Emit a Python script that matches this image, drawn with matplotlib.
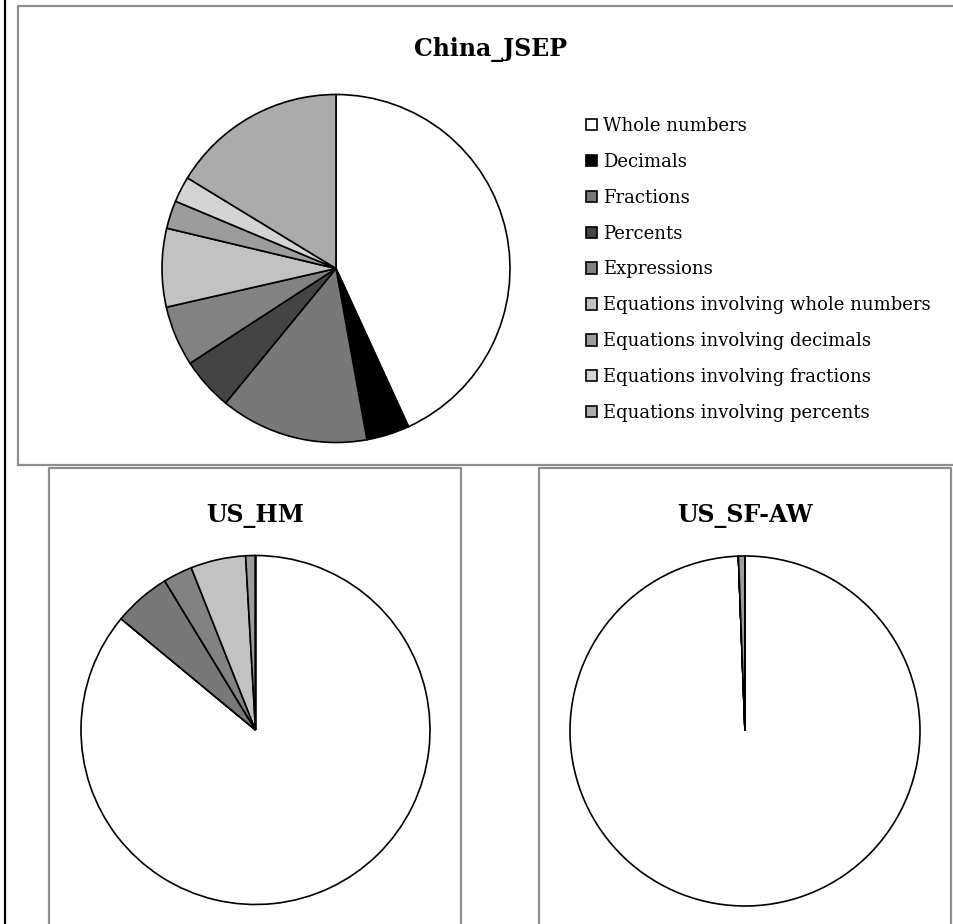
import matplotlib.pyplot as plt
from matplotlib.lines import Line2D

plt.rcParams['font.family'] = ['DejaVu Serif']

# Data
categories = ['Whole numbers', 'Decimals', 'Fractions', 'Percents', 'Expressions',
              'Equations involving whole numbers', 'Equations involving decimals',
              'Equations involving fractions', 'Equations involving percents']
china_jsep = [43.2, 4.0, 13.8, 4.9, 5.6, 7.3, 2.6, 2.4, 16.3]
us_hm = [86.0, 0, 5.3, 0, 2.7, 5.1, 0.9, 0, 0]
us_sfaw = [99.4, 0, 0, 0, 0, 0, 0.6, 0, 0]
colors = ['#ffffff', '#000000', '#787878', '#444444', '#828282',
          '#c2c2c2', '#9c9c9c', '#d4d4d4', '#ababab']

W, H = 954, 924
fig = plt.figure(figsize=(W / 100, H / 100), dpi=100)


def fx(x):
    return x / W


def fy(y):
    return 1 - y / H


def pie_axes(cx, cy, r, values):
    pad = 1.02
    ax = fig.add_axes([fx(cx - r * pad), fy(cy + r * pad), 2 * r * pad / W, 2 * r * pad / H])
    wedges, _ = ax.pie(values, colors=colors, startangle=90, counterclock=False,
                       wedgeprops=dict(edgecolor='black', linewidth=1.2))
    ax.set_xlim(-pad, pad)
    ax.set_ylim(-pad, pad)
    ax.axis('off')
    return ax, wedges


# Frames
frame = '#8e8e8e'
fig.add_artist(Line2D([fx(5), fx(5)], [0, 1], color='black', lw=1.6))
fig.add_artist(Line2D([fx(18), fx(18), fx(954)], [fy(465), fy(6), fy(6)], color=frame, lw=1.6))
fig.add_artist(Line2D([fx(18), fx(954)], [fy(465), fy(465)], color=frame, lw=1.6))
fig.add_artist(Line2D([fx(49), fx(49), fx(461), fx(461)], [0, fy(467.5), fy(467.5), 0], color=frame, lw=1.6))
fig.add_artist(Line2D([fx(539), fx(539), fx(951), fx(951)], [0, fy(468), fy(468), 0], color=frame, lw=1.6))

# Pies
ax1, wedges = pie_axes(336, 268.5, 174, china_jsep)
pie_axes(255.5, 730, 174.5, us_hm)
pie_axes(745, 731, 175, us_sfaw)

# Titles
fig.text(fx(491), fy(50), 'China_JSEP', ha='center', va='center', fontsize=17, fontweight='bold')
fig.text(fx(255), fy(516), 'US_HM', ha='center', va='center', fontsize=17, fontweight='bold')
fig.text(fx(745), fy(516), 'US_SF-AW', ha='center', va='center', fontsize=17, fontweight='bold')

# Legend
fig.legend(wedges, categories, loc='upper left', bbox_to_anchor=(fx(586), fy(117)),
           frameon=False, fontsize=13, handlelength=0.6, handleheight=0.6,
           handletextpad=0.33, labelspacing=0.99, borderpad=0, borderaxespad=0)

fig.savefig('out.png', dpi=100)
